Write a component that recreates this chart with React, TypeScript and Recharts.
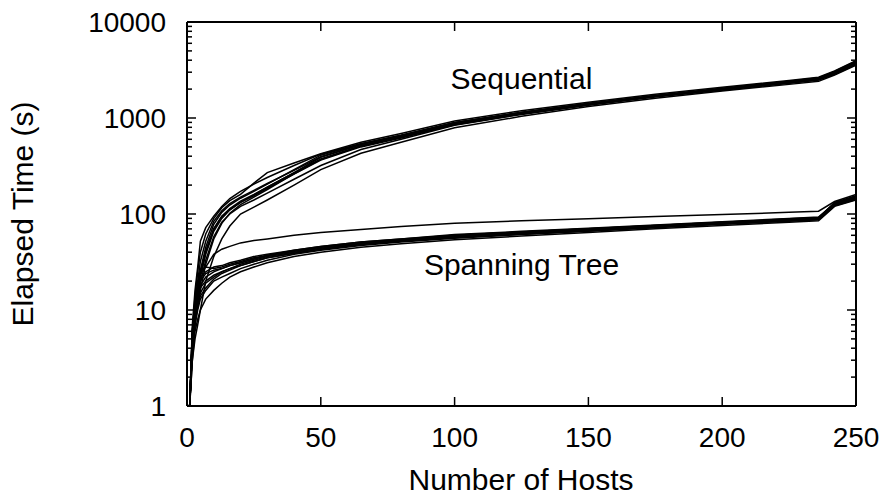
import React from 'react';
import { LineChart, Line, XAxis, YAxis, ReferenceDot } from 'recharts';

const hosts = [1, 2, 3, 4, 5, 7, 10, 13, 16, 20, 25, 30, 40, 50, 65, 80, 100, 125, 150, 175, 200, 225, 236, 242, 250];

// sequential runs (seconds)
const seq1 = [1, 6, 14, 25, 40, 62, 90, 116, 138, 160, 210, 270, 340, 425, 560, 690, 930, 1190, 1460, 1770, 2090, 2460, 2660, 3100, 3950];
const seq2 = [1, 4, 8, 13, 19, 33, 58, 82, 100, 120, 140, 165, 230, 320, 470, 600, 840, 1090, 1360, 1650, 1950, 2300, 2480, 2850, 3600];
const seq3 = [1, 3, 5, 7, 10, 20, 36, 55, 75, 100, 118, 140, 200, 290, 430, 560, 790, 1040, 1320, 1610, 1910, 2240, 2410, 2800, 3550];
const seq4 = [1, 5, 11, 17, 26, 45, 78, 104, 124, 146, 172, 205, 290, 410, 540, 660, 900, 1150, 1420, 1720, 2030, 2380, 2580, 3000, 3800];
const seq5 = [1, 5, 9, 15, 23, 40, 70, 95, 114, 136, 160, 190, 270, 390, 530, 650, 870, 1120, 1390, 1690, 1990, 2340, 2530, 2950, 3700];
const seq6 = [1, 7, 16, 28, 52, 72, 95, 120, 145, 172, 205, 240, 320, 420, 540, 660, 890, 1140, 1410, 1700, 2010, 2370, 2560, 2980, 3850];
const seq7 = [1, 5, 10, 16, 24, 41, 70, 94, 112, 132, 155, 185, 260, 365, 500, 620, 850, 1100, 1370, 1680, 1980, 2320, 2500, 2900, 3650];
const seq8 = [1, 4, 7, 11, 16, 30, 55, 80, 102, 125, 150, 180, 262, 370, 510, 630, 860, 1110, 1380, 1690, 1990, 2330, 2520, 2920, 3700];
const seq9 = [1, 6, 12, 20, 32, 52, 84, 108, 128, 150, 176, 208, 285, 395, 530, 650, 890, 1140, 1420, 1720, 2040, 2420, 2620, 3050, 3900];
const seq10 = [1, 5, 10, 15, 22, 38, 66, 90, 110, 132, 158, 190, 268, 375, 515, 635, 875, 1125, 1395, 1700, 2010, 2360, 2560, 2980, 3780];

// spanning tree runs (seconds)
const span1 = [1, 6, 12, 18, 24, 28, 38, 43, 46, 50, 53, 55, 60, 64, 69, 74, 80, 85, 89, 94, 99, 104, 107, 135, 160];
const span2 = [1, 5, 11, 16, 22, 25, 28, 29, 31, 33, 36, 38, 42, 46, 51, 55, 61, 66, 71, 77, 83, 90, 93, 130, 152];
const span3 = [1, 3, 6, 8, 10, 13, 16, 19, 22, 25, 28, 31, 36, 40, 45, 49, 54, 59, 64, 70, 76, 82, 85, 120, 140];
const span4 = [1, 5, 10, 14, 18, 22, 25, 27, 29, 31, 34, 37, 41, 45, 50, 54, 60, 65, 70, 76, 82, 89, 92, 128, 150];
const span5 = [1, 4, 8, 12, 15, 19, 22, 25, 27, 29, 32, 35, 39, 43, 48, 52, 57, 62, 67, 73, 79, 86, 89, 125, 145];
const span6 = [1, 6, 12, 18, 26, 28, 27, 28, 30, 32, 35, 37, 41, 45, 50, 54, 59, 64, 69, 75, 81, 87, 90, 132, 155];
const span7 = [1, 4, 7, 10, 13, 16, 20, 22, 24, 27, 30, 33, 38, 42, 47, 51, 56, 61, 66, 72, 78, 84, 87, 122, 142];
const span8 = [1, 5, 9, 13, 17, 20, 23, 25, 27, 30, 33, 36, 40, 44, 49, 53, 58, 63, 68, 74, 80, 87, 90, 127, 148];
const span9 = [1, 5, 10, 15, 20, 24, 26, 27, 29, 31, 34, 37, 42, 46, 51, 55, 60, 65, 70, 76, 82, 88, 91, 130, 150];
const span10 = [1, 4, 8, 11, 14, 17, 21, 24, 26, 29, 32, 35, 39, 43, 48, 52, 57, 62, 67, 73, 79, 85, 88, 124, 146];

const xTicks = [0, 50, 100, 150, 200, 250];
const yMajor = [1, 10, 100, 1000, 10000];
const yTicks = [
  1, 2, 3, 4, 5, 6, 7, 8, 9,
  10, 20, 30, 40, 50, 60, 70, 80, 90,
  100, 200, 300, 400, 500, 600, 700, 800, 900,
  1000, 2000, 3000, 4000, 5000, 6000, 7000, 8000, 9000,
  10000,
];

const runs = [
  seq1, seq2, seq3, seq4, seq5, seq6, seq7, seq8, seq9, seq10,
  span1, span2, span3, span4, span5, span6, span7, span8, span9, span10,
];

const data = hosts.map((h, i) => {
  const row: Record<string, number> = { hosts: h };
  runs.forEach((r, k) => {
    row['r' + k] = r[i];
  });
  return row;
});

const FONT = '"Liberation Sans", Arial, Helvetica, sans-serif';

const LeftTick = (props: any) => {
  const { x, y, payload } = props;
  const major = yMajor.includes(payload.value);
  return (
    <g>
      <line x1={x} x2={x + (major ? 9 : 5)} y1={y} y2={y} stroke="#000" strokeWidth={1.5} />
      {major && (
        <text x={x - 21} y={y} textAnchor="end" dominantBaseline="central" fontSize={28} fontFamily={FONT} fill="#000">
          {payload.value}
        </text>
      )}
    </g>
  );
};

const RightTick = (props: any) => {
  const { x, y, payload } = props;
  const major = yMajor.includes(payload.value);
  return <line x1={x} x2={x - (major ? 9 : 5)} y1={y} y2={y} stroke="#000" strokeWidth={1.5} />;
};

const BottomTick = (props: any) => {
  const { x, y, payload } = props;
  return (
    <g>
      <line x1={x} x2={x} y1={y} y2={y - 9} stroke="#000" strokeWidth={1.5} />
      <text x={x} y={y + 31} textAnchor="middle" dominantBaseline="central" fontSize={28} fontFamily={FONT} fill="#000">
        {payload.value}
      </text>
    </g>
  );
};

const TopTick = (props: any) => {
  const { x, y } = props;
  return <line x1={x} x2={x} y1={y} y2={y + 9} stroke="#000" strokeWidth={1.5} />;
};

const note = (text: string) => (props: any) => {
  const vb = props.viewBox || {};
  const cx = (vb.x ?? 0) + (vb.width ?? 0) / 2;
  const cy = (vb.y ?? 0) + (vb.height ?? 0) / 2;
  return (
    <text x={cx} y={cy} textAnchor="middle" dominantBaseline="central" fontSize={30} fontFamily={FONT} fill="#000">
      {text}
    </text>
  );
};

export default function App() {
  return (
    <div style={{ position: 'absolute', left: 0, top: 0, width: 889, height: 495, background: '#fff' }}>
      <LineChart width={889} height={495} data={data} margin={{ top: 0, right: 0, bottom: 0, left: 0 }}>
        <XAxis
          xAxisId="b"
          dataKey="hosts"
          type="number"
          domain={[0, 250]}
          ticks={xTicks}
          interval={0}
          height={89}
          tickSize={0}
          tickMargin={0}
          tickLine={false}
          axisLine={{ stroke: '#000', strokeWidth: 2 }}
          tick={<BottomTick />}
          allowDataOverflow
        />
        <XAxis
          xAxisId="t"
          orientation="top"
          dataKey="hosts"
          type="number"
          domain={[0, 250]}
          ticks={xTicks}
          interval={0}
          height={22}
          tickSize={0}
          tickMargin={0}
          tickLine={false}
          axisLine={{ stroke: '#000', strokeWidth: 2 }}
          tick={<TopTick />}
          allowDataOverflow
        />
        <YAxis
          yAxisId="l"
          scale="log"
          type="number"
          domain={[1, 10000]}
          ticks={yTicks}
          interval={0}
          width={187}
          tickSize={0}
          tickMargin={0}
          tickLine={false}
          axisLine={{ stroke: '#000', strokeWidth: 2 }}
          tick={<LeftTick />}
          allowDataOverflow
        />
        <YAxis
          yAxisId="r"
          orientation="right"
          scale="log"
          type="number"
          domain={[1, 10000]}
          ticks={yTicks}
          interval={0}
          width={33}
          tickSize={0}
          tickMargin={0}
          tickLine={false}
          axisLine={{ stroke: '#000', strokeWidth: 2 }}
          tick={<RightTick />}
          allowDataOverflow
        />
        {runs.map((_, k) => (
          <Line
            key={k}
            xAxisId="b"
            yAxisId="l"
            dataKey={'r' + k}
            type="linear"
            stroke="#000"
            strokeWidth={1.5}
            dot={false}
            activeDot={false}
            isAnimationActive={false}
          />
        ))}
        <ReferenceDot xAxisId="b" yAxisId="l" x={125} y={2550} r={0} stroke="none" fill="none" label={note('Sequential')} />
        <ReferenceDot xAxisId="b" yAxisId="l" x={125} y={30} r={0} stroke="none" fill="none" label={note('Spanning Tree')} />
      </LineChart>
      <div
        style={{
          position: 'absolute',
          left: 23,
          top: 214,
          transform: 'translate(-50%, -50%) rotate(-90deg)',
          whiteSpace: 'nowrap',
          lineHeight: 1,
          fontFamily: FONT,
          fontSize: 30,
          color: '#000',
        }}
      >
        Elapsed Time (s)
      </div>
      <div
        style={{
          position: 'absolute',
          left: 521,
          top: 480,
          transform: 'translate(-50%, -50%)',
          whiteSpace: 'nowrap',
          lineHeight: 1,
          fontFamily: FONT,
          fontSize: 30,
          color: '#000',
        }}
      >
        Number of Hosts
      </div>
    </div>
  );
}
